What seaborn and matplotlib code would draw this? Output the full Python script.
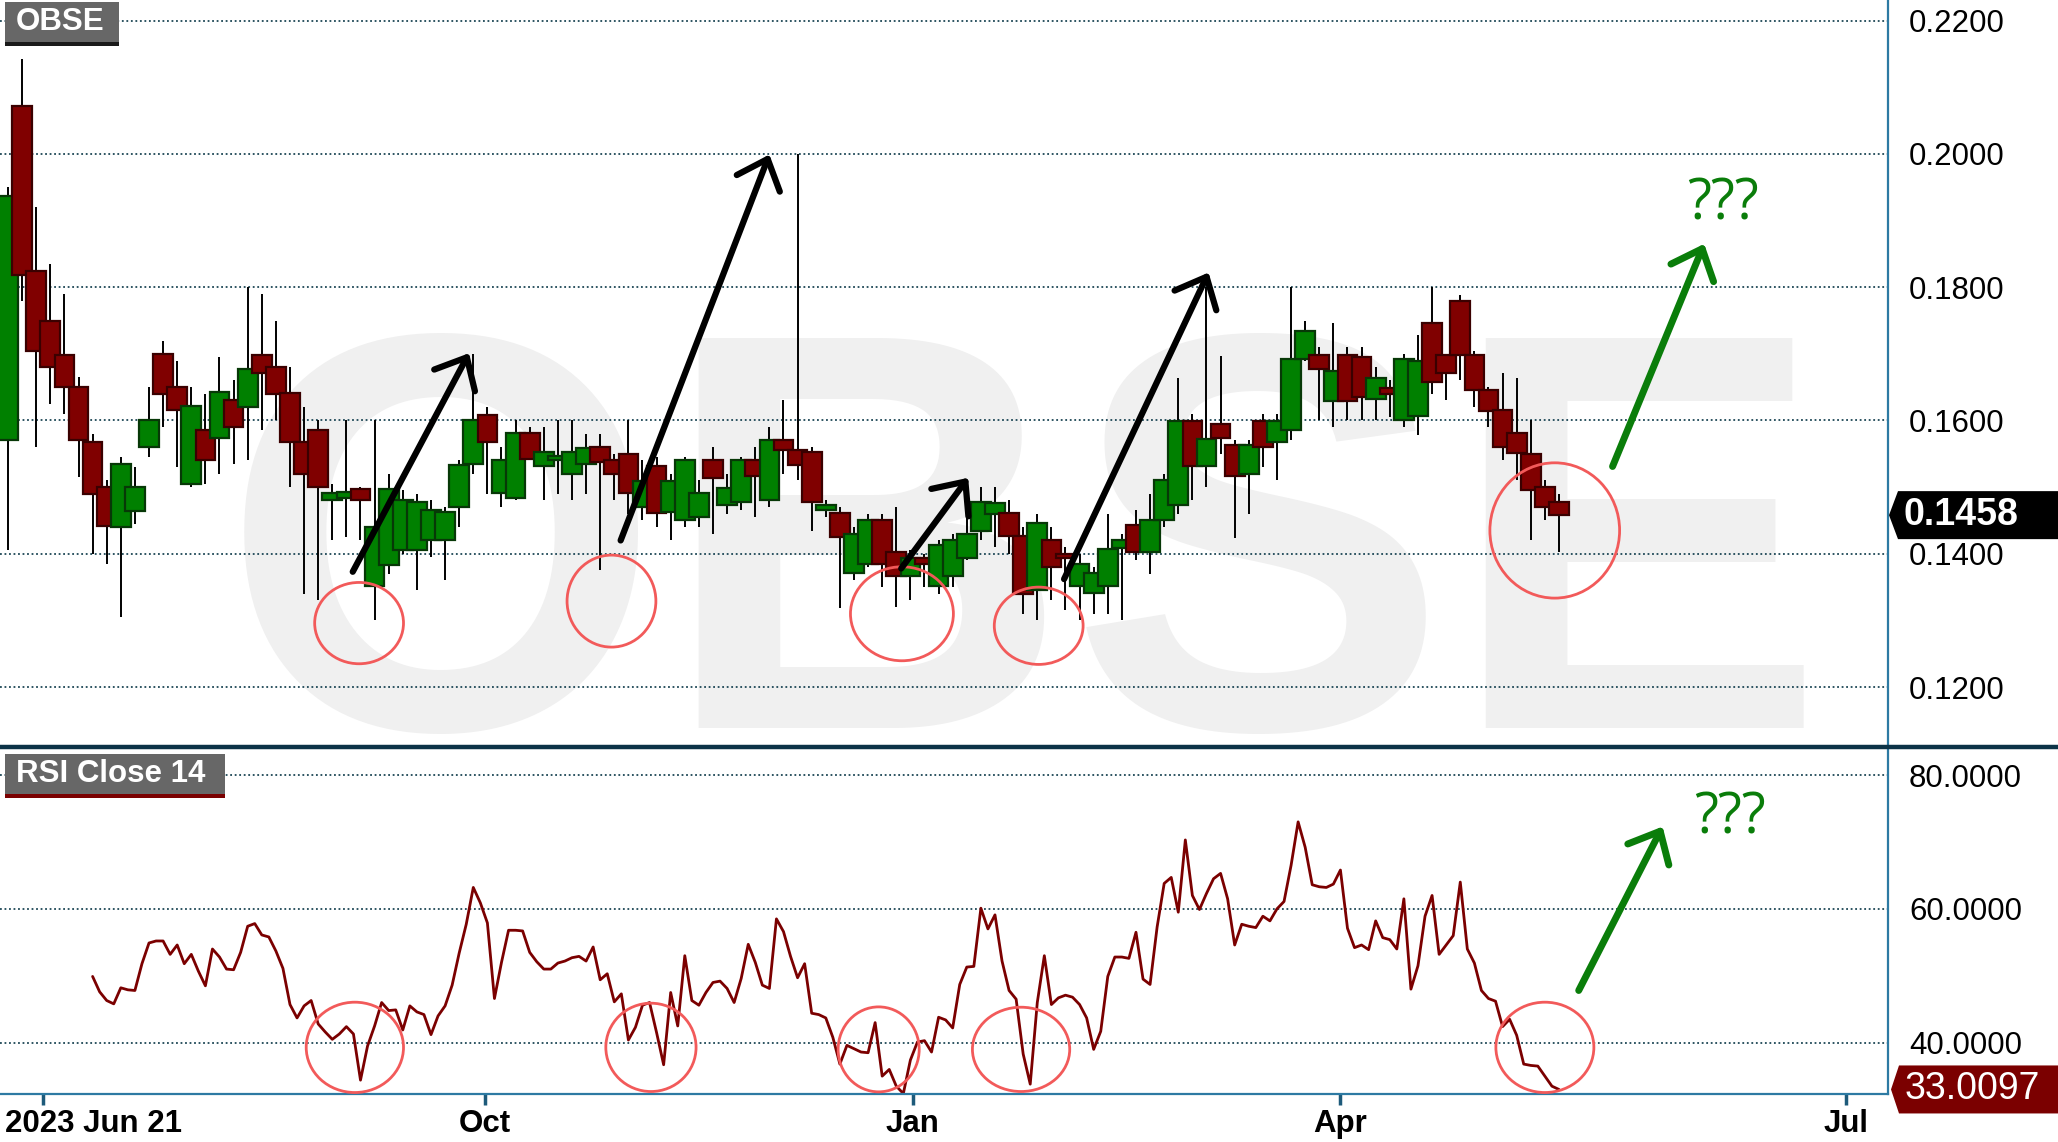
import numpy as np
import pandas as pd
import matplotlib
matplotlib.use("Agg")
import matplotlib.pyplot as plt
import matplotlib.transforms as mtransforms
from matplotlib.patches import Rectangle, Ellipse, Polygon
from matplotlib.lines import Line2D
import seaborn as sns

# OBSE daily candles (one every second bar) and RSI(14)
opens = [0.1570, 0.2072, 0.1825, 0.1750, 0.1698, 0.1650, 0.1567, 0.1500, 0.1440, 0.1464,
         0.1560, 0.1700, 0.1650, 0.1504, 0.1585, 0.1574, 0.1630, 0.1620, 0.1698, 0.1680,
         0.1641, 0.1567, 0.1586, 0.1480, 0.1484, 0.1497, 0.1351, 0.1383, 0.1405, 0.1405,
         0.1420, 0.1420, 0.1470, 0.1535, 0.1608, 0.1491, 0.1484, 0.1581, 0.1531, 0.1540,
         0.1520, 0.1535, 0.1560, 0.1540, 0.1549, 0.1470, 0.1531, 0.1463, 0.1450, 0.1455,
         0.1540, 0.1473, 0.1478, 0.1540, 0.1480, 0.1571, 0.1556, 0.1553, 0.1466, 0.1461,
         0.1371, 0.1384, 0.1450, 0.1402, 0.1366, 0.1394, 0.1351, 0.1366, 0.1394, 0.1434,
         0.1460, 0.1461, 0.1427, 0.1345, 0.1420, 0.1399, 0.1351, 0.1341, 0.1351, 0.1409,
         0.1443, 0.1402, 0.1450, 0.1473, 0.1599, 0.1531, 0.1594, 0.1563, 0.1519, 0.1599,
         0.1567, 0.1586, 0.1693, 0.1698, 0.1629, 0.1698, 0.1696, 0.1632, 0.1648, 0.1601,
         0.1606, 0.1747, 0.1698, 0.1780, 0.1698, 0.1646, 0.1615, 0.1581, 0.1549, 0.1500,
         0.1477]
highs = [0.1950, 0.2142, 0.1920, 0.1835, 0.1790, 0.1665, 0.1580, 0.1510, 0.1545, 0.1530,
         0.1650, 0.1720, 0.1690, 0.1650, 0.1640, 0.1695, 0.1660, 0.1801, 0.1790, 0.1750,
         0.1680, 0.1620, 0.1600, 0.1505, 0.1600, 0.1500, 0.1600, 0.1520, 0.1495, 0.1490,
         0.1480, 0.1470, 0.1540, 0.1700, 0.1620, 0.1560, 0.1600, 0.1590, 0.1590, 0.1600,
         0.1600, 0.1580, 0.1580, 0.1550, 0.1600, 0.1540, 0.1545, 0.1520, 0.1545, 0.1510,
         0.1560, 0.1520, 0.1545, 0.1560, 0.1590, 0.1630, 0.2000, 0.1560, 0.1480, 0.1470,
         0.1440, 0.1460, 0.1460, 0.1470, 0.1405, 0.1400, 0.1420, 0.1430, 0.1470, 0.1500,
         0.1500, 0.1480, 0.1440, 0.1460, 0.1440, 0.1410, 0.1400, 0.1380, 0.1460, 0.1430,
         0.1465, 0.1490, 0.1520, 0.1664, 0.1610, 0.1800, 0.1697, 0.1570, 0.1570, 0.1610,
         0.1610, 0.1801, 0.1750, 0.1710, 0.1747, 0.1710, 0.1710, 0.1680, 0.1660, 0.1700,
         0.1728, 0.1801, 0.1700, 0.1788, 0.1705, 0.1650, 0.1671, 0.1664, 0.1600, 0.1510,
         0.1490]
lows = [0.1405, 0.1780, 0.1560, 0.1625, 0.1610, 0.1515, 0.1400, 0.1385, 0.1305, 0.1445,
        0.1545, 0.1590, 0.1530, 0.1500, 0.1505, 0.1520, 0.1535, 0.1540, 0.1585, 0.1600,
        0.1500, 0.1340, 0.1330, 0.1420, 0.1425, 0.1420, 0.1300, 0.1370, 0.1400, 0.1345,
        0.1395, 0.1360, 0.1440, 0.1520, 0.1490, 0.1470, 0.1480, 0.1540, 0.1480, 0.1490,
        0.1480, 0.1490, 0.1375, 0.1480, 0.1460, 0.1450, 0.1440, 0.1420, 0.1440, 0.1440,
        0.1430, 0.1460, 0.1465, 0.1455, 0.1470, 0.1520, 0.1510, 0.1434, 0.1455, 0.1319,
        0.1360, 0.1380, 0.1350, 0.1320, 0.1330, 0.1350, 0.1340, 0.1350, 0.1390, 0.1420,
        0.1410, 0.1400, 0.1310, 0.1301, 0.1330, 0.1315, 0.1300, 0.1310, 0.1310, 0.1300,
        0.1390, 0.1370, 0.1440, 0.1460, 0.1480, 0.1500, 0.1550, 0.1423, 0.1460, 0.1530,
        0.1510, 0.1570, 0.1690, 0.1600, 0.1590, 0.1600, 0.1600, 0.1600, 0.1605, 0.1590,
        0.1578, 0.1640, 0.1630, 0.1660, 0.1620, 0.1590, 0.1540, 0.1510, 0.1420, 0.1450,
        0.1402]
closes = [0.1937, 0.1819, 0.1705, 0.1680, 0.1650, 0.1570, 0.1490, 0.1441, 0.1535, 0.1500,
          0.1601, 0.1640, 0.1615, 0.1621, 0.1540, 0.1643, 0.1590, 0.1678, 0.1671, 0.1640,
          0.1567, 0.1519, 0.1500, 0.1491, 0.1492, 0.1481, 0.1440, 0.1497, 0.1480, 0.1478,
          0.1466, 0.1462, 0.1533, 0.1600, 0.1567, 0.1540, 0.1581, 0.1542, 0.1553, 0.1546,
          0.1553, 0.1558, 0.1538, 0.1520, 0.1491, 0.1509, 0.1461, 0.1509, 0.1540, 0.1491,
          0.1513, 0.1499, 0.1540, 0.1517, 0.1571, 0.1556, 0.1533, 0.1478, 0.1473, 0.1425,
          0.1430, 0.1450, 0.1384, 0.1366, 0.1394, 0.1384, 0.1413, 0.1421, 0.1430, 0.1478,
          0.1476, 0.1427, 0.1340, 0.1446, 0.1380, 0.1394, 0.1385, 0.1371, 0.1407, 0.1420,
          0.1402, 0.1450, 0.1510, 0.1599, 0.1531, 0.1572, 0.1574, 0.1517, 0.1563, 0.1560,
          0.1599, 0.1693, 0.1735, 0.1677, 0.1675, 0.1629, 0.1635, 0.1663, 0.1639, 0.1693,
          0.1689, 0.1657, 0.1671, 0.1698, 0.1646, 0.1614, 0.1560, 0.1551, 0.1495, 0.1470,
          0.1458]
rsi = [49.9, 47.6, 46.3, 45.8, 48.2, 47.9, 47.8, 51.8, 54.9, 55.2,
       55.2, 53.2, 54.6, 51.8, 53.2, 50.7, 48.5, 54.0, 52.8, 51.0,
       50.9, 53.5, 57.4, 57.8, 56.1, 55.8, 53.7, 51.1, 45.7, 43.7,
       45.5, 46.3, 42.8, 41.6, 40.5, 41.3, 42.4, 41.3, 34.4, 39.5,
       42.5, 46.0, 44.8, 44.9, 41.9, 45.5, 44.6, 44.2, 41.2, 44.0,
       45.5, 48.6, 53.4, 57.7, 63.2, 60.9, 57.9, 46.6, 52.0, 56.8,
       56.8, 56.7, 53.5, 52.1, 51.0, 51.0, 51.9, 52.2, 52.7, 52.9,
       52.2, 54.3, 49.4, 50.3, 46.1, 47.3, 40.4, 42.3, 45.6, 46.0,
       41.5, 36.7, 47.5, 42.5, 53.0, 46.3, 45.6, 47.5, 49.0, 49.2,
       48.1, 46.0, 49.6, 54.7, 52.0, 48.6, 48.1, 58.5, 56.6, 52.9,
       49.7, 51.8, 44.4, 44.2, 43.7, 40.8, 36.8, 39.6, 39.1, 38.6,
       38.5, 43.0, 35.0, 36.0, 33.5, 32.4, 37.4, 40.1, 40.3, 38.6,
       43.8, 43.4, 42.2, 48.7, 51.3, 51.4, 60.1, 57.0, 59.1, 52.2,
       47.8, 46.5, 38.3, 33.8, 46.0, 53.0, 45.7, 46.7, 47.1, 46.8,
       45.7, 43.7, 39.0, 41.7, 49.9, 52.8, 52.8, 52.6, 56.5, 49.5,
       48.7, 57.3, 63.8, 64.7, 59.5, 70.3, 62.0, 59.9, 62.3, 64.5,
       65.3, 61.5, 54.6, 57.7, 57.4, 57.2, 58.9, 58.2, 60.0, 61.1,
       66.5, 73.0, 69.2, 63.6, 63.3, 63.2, 63.7, 65.8, 57.1, 54.2,
       54.6, 53.9, 58.2, 55.7, 55.4, 54.0, 61.5, 48.0, 51.5, 58.9,
       62.0, 53.2, 54.6, 56.0, 64.0, 54.0, 51.9, 47.8, 46.6, 46.2,
       42.4, 43.5, 41.1, 36.8, 36.6, 36.5, 35.0, 33.5, 33.01]
rsi_first_bar = 12

price_ticks = [0.12, 0.14, 0.16, 0.18, 0.20, 0.22]
rsi_ticks = [40, 60, 80]
month_labels = ["2023 Jun 21", "Oct", "Jan", "Apr", "Jul"]
month_bars = [4.96, 67.7, 128.3, 189.0, 260.7]
last_price = 0.1458
last_rsi = 33.0097

# annotations (bar, value)
price_circles = [(49.8, 0.1296, 12.6, 0.0122), (85.6, 0.1329, 12.6, 0.0138),
                 (126.8, 0.1310, 14.6, 0.0141), (146.2, 0.1292, 12.6, 0.0116),
                 (219.4, 0.1435, 18.4, 0.0203)]
rsi_circles = [(49.2, 39.3, 13.8, 13.5), (91.2, 39.3, 12.8, 13.2), (123.5, 39.0, 11.5, 12.7),
               (143.7, 39.0, 13.8, 12.6), (218.0, 39.3, 13.9, 13.5)]
black_arrows = [((48.9, 0.1373), (65.4, 0.1701)), ((86.9, 0.1420), (108.0, 0.1999)),
                ((126.7, 0.1378), (136.2, 0.1514)), ((149.8, 0.1362), (170.3, 0.1822))]

candles = pd.DataFrame({"bar": np.arange(0, 2 * len(opens), 2), "open": opens,
                        "high": highs, "low": lows, "close": closes})
candles["up"] = candles["close"] >= candles["open"]
rsi_df = pd.DataFrame({"bar": np.arange(rsi_first_bar, rsi_first_bar + len(rsi)), "rsi": rsi})

W, H = 2058, 1142
sns.set_theme(style="white")
plt.rcParams["font.family"] = ["Liberation Sans", "DejaVu Sans"]


def fx(px):
    return px / W


def fy(py):
    return 1 - py / H


fig = plt.figure(figsize=(W / 100, H / 100), dpi=100)
ax = fig.add_axes([0, fy(746), fx(1887.5), fy(0) - fy(746)])
ax2 = fig.add_axes([0, fy(1094), fx(1887.5), fy(748) - fy(1094)], sharex=ax)

GREEN = "#008000"
DRED = "#800000"
AXBLUE = "#2d7aa3"
GRIDC = "#1c4655"

# watermark
ax.text(fx(1024), fy(728), "OBSE", transform=fig.transFigure, ha="center", va="baseline",
        fontsize=408, fontweight="bold", color="#f0f0f0", zorder=0)

# candles
ax.vlines(candles["bar"], candles["low"], candles["high"], color="black", lw=1.4, zorder=3)
body_lo = candles[["open", "close"]].min(axis=1)
body_h = (candles["close"] - candles["open"]).abs().clip(lower=0.0003)
ax.bar(candles["bar"], body_h, bottom=body_lo, width=2.8,
       color=np.where(candles["up"], GREEN, DRED),
       edgecolor=np.where(candles["up"], "#073807", "#3a0000"), lw=1.6, zorder=4)

ax.set_xlim(-1.135, 266.6)
ax.set_ylim(0.11116, 0.22309)
ax.set_axisbelow(True)
ax.yaxis.grid(True, linestyle=(0, (1, 1.5)), color=GRIDC, lw=1.3)
ax.xaxis.grid(False)
ax.yaxis.tick_right()
ax.set_yticks(price_ticks)
ax.set_yticklabels([f"{v:.4f}" for v in price_ticks])
ax.tick_params(axis="y", length=0, pad=15.5, labelsize=22.5, labelcolor="black")
ax.tick_params(axis="x", bottom=False, labelbottom=False)
for s in ["left", "top", "bottom"]:
    ax.spines[s].set_visible(False)
ax.spines["right"].set_color(AXBLUE)
ax.spines["right"].set_linewidth(1.6)

for bx, by, bw, bh in price_circles:
    ax.add_patch(Ellipse((bx, by), bw, bh, fill=False, edgecolor="#f25a5a", lw=2.0, zorder=6))
for tail, tip in black_arrows:
    ax.annotate("", xy=tip, xytext=tail, zorder=7,
                arrowprops=dict(arrowstyle="->,head_length=0.94,head_width=0.83", lw=4.5,
                                color="black", shrinkA=0, shrinkB=0, mutation_scale=20))
ax.annotate("", xy=(240.6, 0.1865), xytext=(227.6, 0.1531), zorder=7,
            arrowprops=dict(arrowstyle="->,head_length=0.94,head_width=0.83", lw=5,
                            color="#0a7d0a", shrinkA=0, shrinkB=0, mutation_scale=20))
ax.text(238.2, 0.1924, "???", color="#0a7d0a", fontsize=40, family=["Open Sans", "DejaVu Sans"],
        ha="left", va="center", zorder=7)

# RSI panel
sns.lineplot(data=rsi_df, x="bar", y="rsi", ax=ax2, color="#7b0000", lw=2.0, legend=False)
ax2.set_xlabel("")
ax2.set_ylabel("")
ax2.set_ylim(32.33, 84.04)
ax2.set_xlim(-1.135, 266.6)
ax2.set_axisbelow(True)
ax2.yaxis.grid(True, linestyle=(0, (1, 1.5)), color=GRIDC, lw=1.3)
ax2.xaxis.grid(False)
ax2.yaxis.tick_right()
ax2.set_yticks(rsi_ticks)
ax2.set_yticklabels([f"{v:.4f}" for v in rsi_ticks])
ax2.tick_params(axis="y", length=0, pad=15.5, labelsize=22.5, labelcolor="black")
ax2.set_xticks(month_bars)
ax2.set_xticklabels([""] * len(month_bars))
ax2.tick_params(axis="x", bottom=True, length=8, width=2.5, color="#1d5a7a", pad=4)
for s in ["left", "top"]:
    ax2.spines[s].set_visible(False)
for s in ["right", "bottom"]:
    ax2.spines[s].set_color(AXBLUE)
    ax2.spines[s].set_linewidth(1.6)

lab_tr = mtransforms.blended_transform_factory(ax2.transData, ax2.transAxes)
for i, (pos, lab) in enumerate(zip(month_bars, month_labels)):
    if i == 0:
        tr = mtransforms.offset_copy(lab_tr, fig=fig, x=-37.6, y=0, units="dots")
        ax2.text(pos, -0.0867, lab, transform=tr, ha="left", va="center",
                 fontsize=22.5, fontweight="bold", color="black", clip_on=False)
    else:
        ax2.text(pos, -0.0867, lab, transform=lab_tr, ha="center", va="center",
                 fontsize=22.5, fontweight="bold", color="black", clip_on=False)

for bx, by, bw, bh in rsi_circles:
    ax2.add_patch(Ellipse((bx, by), bw, bh, fill=False, edgecolor="#f25a5a", lw=2.0, zorder=6))
ax2.annotate("", xy=(234.7, 72.3), xytext=(222.8, 47.8), zorder=7,
             arrowprops=dict(arrowstyle="->,head_length=0.94,head_width=0.83", lw=5,
                             color="#0a7d0a", shrinkA=0, shrinkB=0, mutation_scale=20))
ax2.text(239.2, 73.4, "???", color="#0a7d0a", fontsize=40, family=["Open Sans", "DejaVu Sans"],
         ha="left", va="center", zorder=7)

# panel separator
fig.add_artist(Line2D([0, 1], [fy(746.5), fy(746.5)], transform=fig.transFigure,
                      color="#0c3347", lw=3.2))

# label boxes
fig.add_artist(Rectangle((fx(5), fy(42)), fx(114), fy(2.4) - fy(42), transform=fig.transFigure,
                         facecolor="#676767", edgecolor="none"))
fig.add_artist(Rectangle((fx(5), fy(45.5)), fx(114), fy(42) - fy(45.5), transform=fig.transFigure,
                         facecolor="#1a1a1a", edgecolor="none"))
fig.text(fx(15.6), fy(22.5), "OBSE", color="white", fontsize=22.5, fontweight="bold",
         ha="left", va="center")
fig.add_artist(Rectangle((fx(5), fy(794)), fx(220), fy(754) - fy(794), transform=fig.transFigure,
                         facecolor="#676767", edgecolor="none"))
fig.add_artist(Rectangle((fx(5), fy(798)), fx(220), fy(794) - fy(798), transform=fig.transFigure,
                         facecolor="#7a0000", edgecolor="none"))
fig.text(fx(16), fy(774), "RSI Close 14", color="white", fontsize=22.5, fontweight="bold",
         ha="left", va="center")

# last value tags
tr1 = mtransforms.blended_transform_factory(fig.transFigure, ax.transData)
hh = 24 / 6665
fig.add_artist(Polygon([(fx(1889), last_price), (fx(1898), last_price + hh), (1, last_price + hh),
                        (1, last_price - hh), (fx(1898), last_price - hh)],
                       closed=True, transform=tr1, facecolor="black", edgecolor="none"))
fig.text(fx(1903.5), last_price, "0.1458", transform=tr1, color="white", fontsize=27,
         fontweight="bold", ha="left", va="center")
tr2 = mtransforms.blended_transform_factory(fig.transFigure, ax2.transData)
hr = 24 / 6.69
fig.add_artist(Polygon([(fx(1891), last_rsi), (fx(1899), last_rsi + hr), (1, last_rsi + hr),
                        (1, last_rsi - hr), (fx(1899), last_rsi - hr)],
                       closed=True, transform=tr2, facecolor="#7b0000", edgecolor="none"))
fig.text(fx(1905), last_rsi, "33.0097", transform=tr2, color="white", fontsize=27,
         ha="left", va="center")

fig.savefig("out.png", dpi=100, facecolor="white")
